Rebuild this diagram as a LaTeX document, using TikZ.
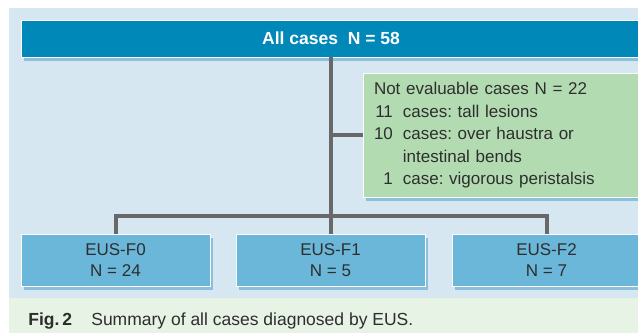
\documentclass[tikz,border=0pt]{standalone}
\usepackage{fontspec}
\setmainfont{Liberation Sans}
\frenchspacing
\usetikzlibrary{positioning}
\usetikzlibrary{shadows}
\definecolor{bgblue}{HTML}{D7E7F1}
\definecolor{capgreen}{HTML}{E7F3E5}
\definecolor{barblue}{HTML}{0088B8}
\definecolor{boxblue}{HTML}{6BB7D9}
\definecolor{notegreen}{HTML}{B3DBB1}
\definecolor{linegray}{HTML}{686868}
\definecolor{shadowblue}{HTML}{8CBFDC}
\definecolor{textgray}{HTML}{2E2E2E}

\begin{document}
\begin{tikzpicture}[x=1pt,y=-1pt,
    every node/.style={outer sep=0pt},
    shade/.style={general shadow={fill=shadowblue,shadow xshift=3pt,shadow yshift=-4pt}},
    topbar/.style={shade,draw=white,line width=1pt,fill=barblue,minimum width=620pt,minimum height=37pt,text=white,font=\fontsize{17.5}{20}\selectfont\bfseries},
    casebox/.style={shade,draw=white,line width=1pt,fill=boxblue,minimum width=189pt,minimum height=52pt,align=center,text=textgray,font=\fontsize{17}{20.5}\selectfont},
    notebox/.style={shade,draw=white,line width=1pt,fill=notegreen,minimum height=124pt,text width=256pt,inner xsep=11pt,align=left,text=textgray,font=\fontsize{17}{22.5}\selectfont},
    link/.style={draw=linegray,line width=4pt}]
  \useasboundingbox (0,0) rectangle (638,333);
  \fill[bgblue] (9,8) rectangle (638,298);
  \fill[capgreen] (9,298) rectangle (638,333);

  \node[topbar] (all) at (331,38.5) {All cases\ \ N = 58};
  \node[notebox,anchor=north west] (noteval) at (363,73) {%
    \begin{tabular}{@{}r@{\hspace{10pt}}l@{}}
      \multicolumn{2}{@{}l@{}}{Not evaluable cases N = 22}\\
      11 & cases: tall lesions\\
      10 & cases: over haustra or\\
         & intestinal bends\\
      1  & case: vigorous peristalsis
    \end{tabular}};
  \node[casebox] (f0) at (115.5,260) {EUS-F0\\N = 24};
  \node[casebox,right=26pt of f0] (f1) {EUS-F1\\N = 5};
  \node[casebox,right=27pt of f1] (f2) {EUS-F2\\N = 7};

  \draw[link] (all.south -| f1.north) -- (f1.north);
  \draw[link] (noteval.west -| f1.north) -- (noteval.west);
  \draw[link] (f0.north) -- ++(0,-18) -| (f2.north);

  \node[anchor=base west,text=textgray,font=\fontsize{17.5}{20}\selectfont\bfseries] (figlabel) at (25,325) {Fig.\,2};
  \node[anchor=base west,text=textgray,font=\fontsize{17.5}{20}\selectfont] (caption) at (88,325) {Summary of all cases diagnosed by EUS.};
\end{tikzpicture}
\end{document}
